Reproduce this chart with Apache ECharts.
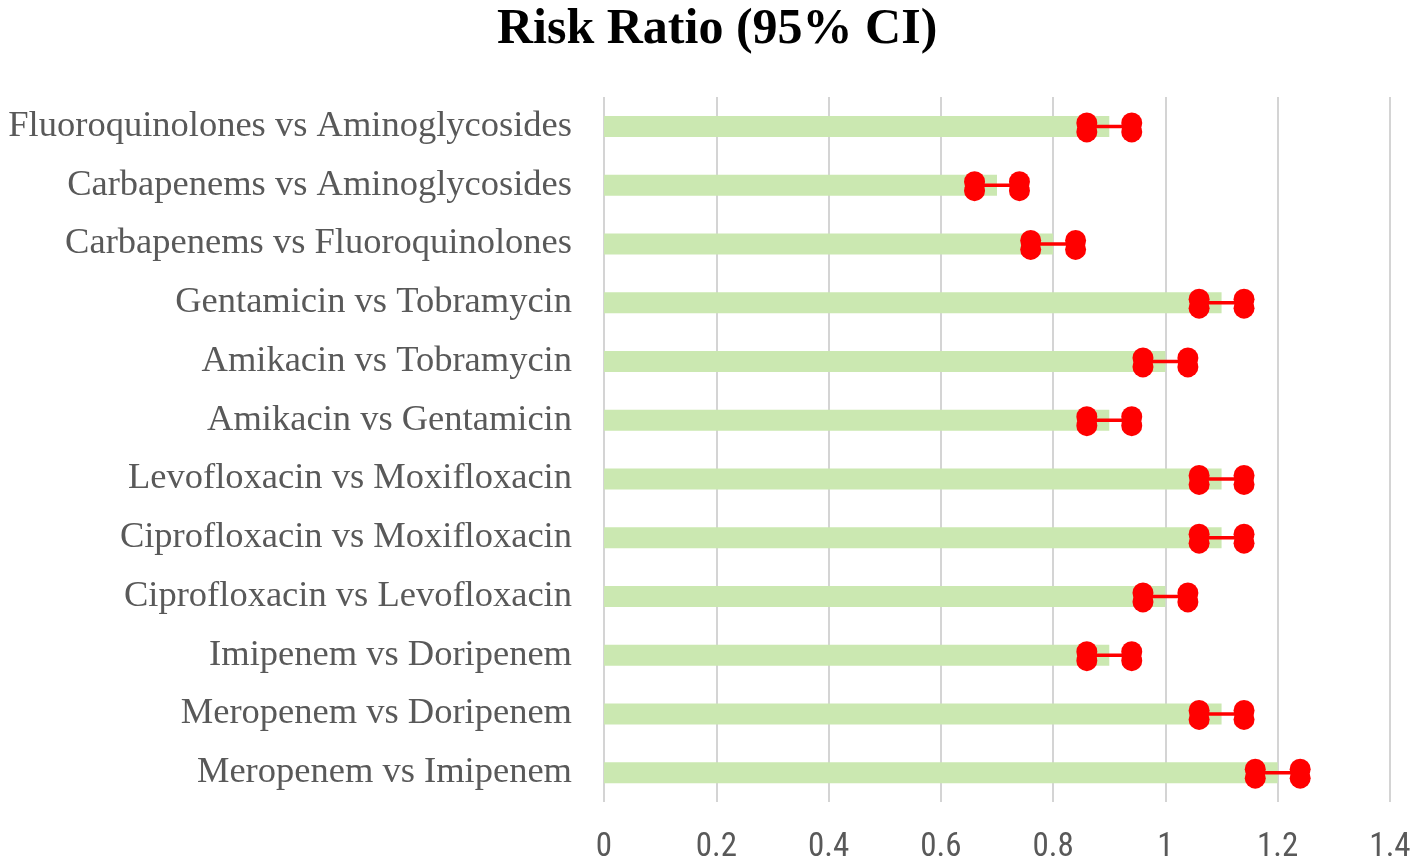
<!DOCTYPE html>
<html><head><meta charset="utf-8">
<script src="https://cdn.jsdelivr.net/npm/echarts@6/dist/echarts.min.js"></script>
<style>html,body{margin:0;padding:0;background:#fff}#c{width:1418px;height:864px}</style>
</head><body><div id="c"></div>
<script>
const categories = [
  'Fluoroquinolones vs Aminoglycosides',
  'Carbapenems vs Aminoglycosides',
  'Carbapenems vs Fluoroquinolones',
  'Gentamicin vs Tobramycin',
  'Amikacin vs Tobramycin',
  'Amikacin vs Gentamicin',
  'Levofloxacin vs Moxifloxacin',
  'Ciprofloxacin vs Moxifloxacin',
  'Ciprofloxacin vs Levofloxacin',
  'Imipenem vs Doripenem',
  'Meropenem vs Doripenem',
  'Meropenem vs Imipenem'
];
const riskRatio = [0.9, 0.7, 0.8, 1.1, 1.0, 0.9, 1.1, 1.1, 1.0, 0.9, 1.1, 1.2];
const ciLower  = [0.86, 0.66, 0.76, 1.06, 0.96, 0.86, 1.06, 1.06, 0.96, 0.86, 1.06, 1.16];
const ciUpper  = [0.94, 0.74, 0.84, 1.14, 1.04, 0.94, 1.14, 1.14, 1.04, 0.94, 1.14, 1.24];
const xTicks = { min: 0, max: 1.4, interval: 0.2 };

const chart = echarts.init(document.getElementById('c'));
const ciData = categories.map((c, i) => [i, ciLower[i], ciUpper[i]]);
function marker(x, y) {
  return [
    { type: 'circle', shape: { cx: x, cy: y - 3.5, r: 10.5 }, style: { fill: '#ff0000' } },
    { type: 'circle', shape: { cx: x, cy: y + 5.5, r: 10.5 }, style: { fill: '#ff0000' } }
  ];
}
chart.setOption({
  animation: false,
  title: {
    text: 'Risk Ratio (95% CI)', left: 492, top: 0,
    textStyle: { fontFamily: 'Liberation Serif', fontWeight: 'bold', fontSize: 50, color: '#000' }
  },
  grid: { left: 604, right: 28, top: 97, bottom: 57 },
  xAxis: {
    type: 'value', min: xTicks.min, max: xTicks.max, interval: xTicks.interval,
    axisLine: { show: false }, axisTick: { show: false },
    splitLine: { show: true, lineStyle: { color: '#d4d4d4', width: 2 } },
    axisLabel: { color: '#595959', fontSize: 33, margin: 29, fontFamily: 'Liberation Sans Narrow, Roboto Condensed, Liberation Sans' }
  },
  yAxis: {
    type: 'category', data: categories, inverse: true,
    axisLine: { show: false }, axisTick: { show: false },
    axisLabel: { color: '#595959', fontSize: 36.5, margin: 32, fontFamily: 'Liberation Serif' }
  },
  series: [
    {
      type: 'bar', data: riskRatio, barWidth: 21,
      itemStyle: { color: '#cbe8b1' }
    },
    {
      type: 'custom', data: ciData, z: 5,
      renderItem: function (params, api) {
        const idx = api.value(0);
        const p1 = api.coord([api.value(1), idx]);
        const p2 = api.coord([api.value(2), idx]);
        return {
          type: 'group',
          children: [
            { type: 'line', shape: { x1: p1[0], y1: p1[1], x2: p2[0], y2: p2[1] }, style: { stroke: '#ff0000', lineWidth: 3.5 } }
          ].concat(marker(p1[0], p1[1]), marker(p2[0], p2[1]))
        };
      },
      encode: { x: [1, 2], y: 0 }
    }
  ]
});
</script></body></html>
